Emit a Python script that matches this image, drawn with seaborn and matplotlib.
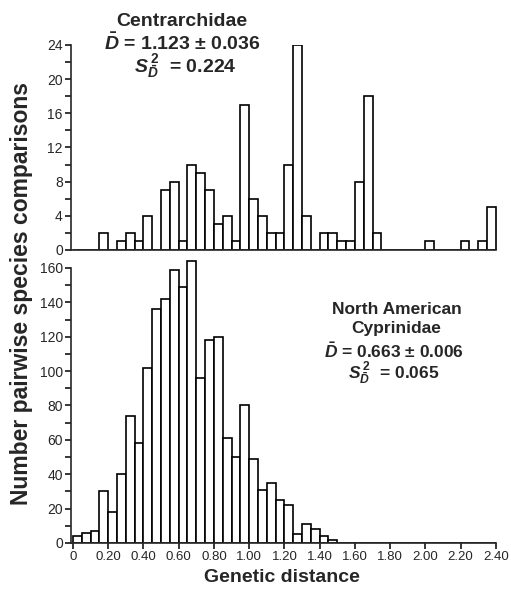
import numpy as np
import pandas as pd
import matplotlib
matplotlib.use("Agg")
import matplotlib.pyplot as plt
import seaborn as sns
from matplotlib.ticker import MultipleLocator

# bin width 0.05, bins start at 0.00 and run to 2.40
bin_width = 0.05
bin_starts = np.round(np.arange(0, 2.40, bin_width), 2)

# Centrarchidae counts per bin
centrarchidae = [0, 0, 0, 2, 0, 1, 2, 1, 4, 0,
                 7, 8, 1, 10, 9, 7, 3, 4, 1, 17,
                 6, 4, 2, 2, 10, 24, 4, 0, 2, 2,
                 1, 1, 8, 18, 2, 0, 0, 0, 0, 0,
                 1, 0, 0, 0, 1, 0, 1, 5]

# North American Cyprinidae counts per bin
cyprinidae = [4, 6, 7, 30, 18, 40, 74, 58, 102, 136,
              142, 159, 149, 164, 96, 118, 120, 61, 50, 80,
              49, 31, 35, 25, 22, 5, 11, 8, 4, 2,
              0, 0, 0, 0, 0, 0, 0, 0, 0, 0,
              0, 0, 0, 0, 0, 0, 0, 0]

x_ticks = [0, 0.2, 0.4, 0.6, 0.8, 1.0, 1.2, 1.4, 1.6, 1.8, 2.0, 2.2, 2.4]
x_ticklabels = ["0", "0.20", "0.40", "0.60", "0.80", "1.00", "1.20",
                "1.40", "1.60", "1.80", "2.00", "2.20", "2.40"]

sns.set_theme(style="ticks")
plt.rcParams["font.family"] = ["Liberation Sans", "DejaVu Sans"]
plt.rcParams["mathtext.fontset"] = "custom"
plt.rcParams["mathtext.rm"] = "Liberation Sans:bold"
plt.rcParams["mathtext.it"] = "Liberation Sans:bold:italic"
plt.rcParams["mathtext.bf"] = "Liberation Sans:bold"

fig = plt.figure(figsize=(5.11, 5.90), dpi=100)
ax1 = fig.add_axes([0.1393, 0.5763, 0.8345, 0.3475])
ax2 = fig.add_axes([0.1393, 0.0797, 0.8345, 0.4807])

edges = [round(b, 2) for b in bin_starts] + [2.40]

for ax, counts in [(ax1, centrarchidae), (ax2, cyprinidae)]:
    df = pd.DataFrame({"distance": bin_starts + bin_width / 2, "count": counts})
    sns.histplot(data=df, x="distance", weights="count", bins=edges, ax=ax,
                 color="white", edgecolor="black", linewidth=1.2, alpha=1)
    ax.set_xlim(-0.01, 2.41)
    ax.set_xlabel("")
    ax.set_ylabel("")
    ax.spines["top"].set_visible(False)
    ax.spines["right"].set_visible(False)
    ax.spines["left"].set_linewidth(1.2)
    ax.spines["bottom"].set_linewidth(1.2)
    ax.spines["bottom"].set_bounds(-0.01, 2.40)
    ax.tick_params(axis="both", which="major", direction="out", length=4,
                   width=1.1, color="black", labelsize=9.5, pad=2)
    ax.tick_params(axis="y", which="minor", direction="out", length=4,
                   width=1.1, color="black")
    ax.tick_params(axis="y", which="major", labelsize=10)
    ax.set_facecolor("white")

# top panel
ax1.set_ylim(0, 24)
ax1.spines["left"].set_bounds(0, 24)
ax1.yaxis.set_major_locator(MultipleLocator(4))
ax1.yaxis.set_minor_locator(MultipleLocator(2))
ax1.set_xticks([])

# bottom panel
ax2.set_ylim(0, 165)
ax2.spines["left"].set_bounds(0, 160)
ax2.yaxis.set_major_locator(MultipleLocator(20))
ax2.yaxis.set_minor_locator(MultipleLocator(10))
ax2.set_xticks(x_ticks)
ax2.set_xticklabels(x_ticklabels)

fig.text(0.043, 0.5025, "Number pairwise species comparisons", rotation=90,
         ha="center", va="center", fontsize=16.5, fontweight="bold")
fig.text(0.551, 0.022, "Genetic distance", ha="center", va="center",
         fontsize=14, fontweight="bold")

# annotations
fig.text(0.356, 0.964, "Centrarchidae", ha="center", va="center",
         fontsize=14, fontweight="bold")
fig.text(0.356, 0.927, r"$\bar{D}$ = 1.123 ± 0.036", ha="center", va="center",
         fontsize=14, fontweight="bold")
fig.text(0.362, 0.888, r"$S_{\bar{D}}^{\,2}$  = 0.224", ha="center", va="center",
         fontsize=14, fontweight="bold")

fig.text(0.776, 0.475, "North American", ha="center", va="center",
         fontsize=12.5, fontweight="bold")
fig.text(0.776, 0.444, "Cyprinidae", ha="center", va="center",
         fontsize=12.5, fontweight="bold")
fig.text(0.771, 0.405, r"$\bar{D}$ = 0.663 ± 0.006", ha="center", va="center",
         fontsize=12.5, fontweight="bold")
fig.text(0.771, 0.368, r"$S_{\bar{D}}^{\,2}$  = 0.065", ha="center", va="center",
         fontsize=12.5, fontweight="bold")

fig.savefig("out.png", dpi=100, facecolor="white")
